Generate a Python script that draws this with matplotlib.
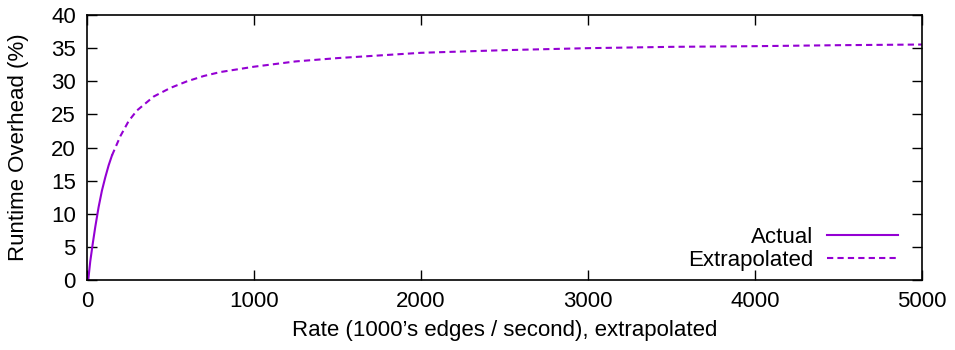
import numpy as np
import matplotlib.pyplot as plt

# values
actual_x = [8, 20, 35, 50, 70, 90, 110, 130, 150]
actual_y = [0.0, 2.8, 5.5, 8.0, 11.0, 13.5, 15.5, 17.3, 18.8]

extra_x = [150, 200, 250, 300, 400, 500, 600, 700, 800, 1000, 1250, 1500,
           2000, 2500, 3000, 3500, 4000, 4500, 5000]
extra_y = [18.8, 21.7, 24.0, 25.6, 27.7, 29.0, 30.0, 30.8, 31.4, 32.2, 33.0, 33.5,
           34.3, 34.7, 35.0, 35.2, 35.3, 35.45, 35.55]

xticks = [0, 1000, 2000, 3000, 4000, 5000]
yticks = [0, 5, 10, 15, 20, 25, 30, 35, 40]

plt.rcParams['font.family'] = ['Liberation Sans', 'DejaVu Sans']
plt.rcParams['font.size'] = 16

color = '#9400d3'

fig = plt.figure(figsize=(9.55, 3.5), dpi=100)
ax = fig.add_axes([0.091, 0.2, 0.8744, 0.757])

ax.plot(actual_x, actual_y, color=color, lw=1.5, label='Actual')
ax.plot(extra_x, extra_y, color=color, lw=1.5, linestyle=(0, (3, 2)), label='Extrapolated')

ax.set_xlim(0, 5000)
ax.set_ylim(0, 40)
ax.set_xticks(xticks)
ax.set_yticks(yticks)
ax.tick_params(direction='in', top=True, right=True, length=7, width=1, pad=8)
for s in ax.spines.values():
    s.set_linewidth(1.2)

ax.set_xlabel("Rate (1000’s edges / second), extrapolated", labelpad=6)
ax.set_ylabel('Runtime Overhead (%)', labelpad=16)

ax.legend(loc='lower right', frameon=False, markerfirst=False, handlelength=3.2,
          handletextpad=0.6, labelspacing=0.1, borderaxespad=0.0,
          bbox_to_anchor=(0.982, 0.0))

fig.savefig('out.png', dpi=100)
